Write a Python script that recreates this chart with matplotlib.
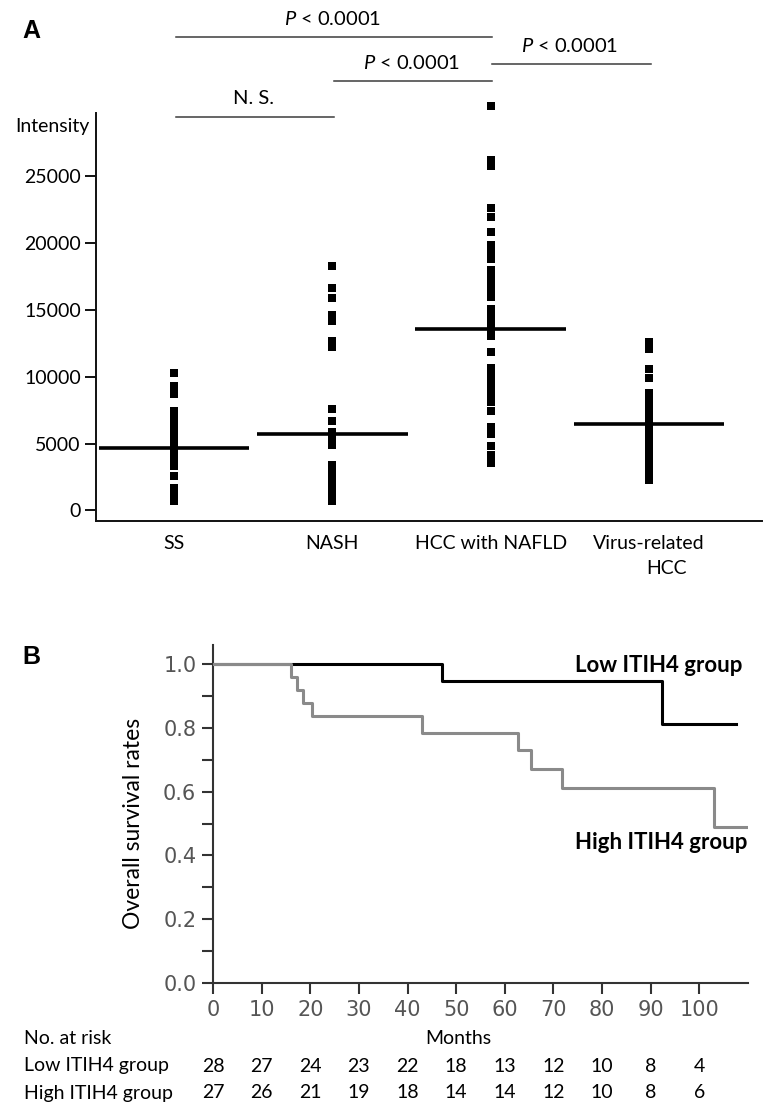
import matplotlib
matplotlib.use('Agg')
import matplotlib.pyplot as plt
from matplotlib import transforms

plt.rcParams['font.family'] = ['Lato', 'DejaVu Sans']
plt.rcParams['mathtext.fontset'] = 'custom'
plt.rcParams['mathtext.it'] = 'Lato:italic'
plt.rcParams['mathtext.rm'] = 'Lato'

# ---------------- Panel A data ----------------
categories = ['SS', 'NASH', 'HCC with NAFLD', 'Virus-related']
ss_vals = [10300, 9300, 8700, 7450, 7070, 6500, 6100, 5700, 5300, 4900, 4500,
           4100, 3700, 3300, 2600, 1700, 1200, 700]
nash_vals = [18290, 16670, 15920, 14600, 14150, 12650, 12250, 7560, 6720, 5900,
             5400, 4920, 3400, 2900, 2400, 1900, 1400, 900, 680]
hcc_nafld_vals = [30260, 26200, 25750, 22650, 21950, 20850, 19850, 19300, 18850,
                  18000, 17500, 17000, 16500, 16000, 15050, 14550, 14050, 13550,
                  13050, 11850, 10650, 10150, 9650, 9150, 8650, 8150, 7430, 6260,
                  5700, 4850, 4150, 3550]
virus_hcc_vals = [12620, 12050, 10620, 9900, 8760, 8260, 7760, 7260, 6760, 6260,
                  5760, 5260, 4760, 4260, 3760, 3260, 2760, 2300]
group_means = [4650, 5750, 13600, 6450]
y_ticks_A = [0, 5000, 10000, 15000, 20000, 25000]

sig_pairs = [(0, 1), (1, 2), (0, 2), (2, 3)]
sig_labels = ['N. S.', r'$\mathit{P}$ < 0.0001', r'$\mathit{P}$ < 0.0001', r'$\mathit{P}$ < 0.0001']
sig_heights = [29450, 32150, 35440, 33420]

# ---------------- Panel B data ----------------
low_t = [0, 47.0, 92.3, 107.6]
low_s = [1.0, 0.946, 0.812, 0.812]
high_t = [0, 16.1, 17.3, 18.5, 20.3, 42.9, 62.8, 65.3, 71.7, 103.0, 109.7]
high_s = [1.0, 0.96, 0.92, 0.879, 0.837, 0.783, 0.730, 0.670, 0.610, 0.490, 0.490]
risk_times = [0, 10, 20, 30, 40, 50, 60, 70, 80, 90, 100]
low_risk = [28, 27, 24, 23, 22, 18, 13, 12, 10, 8, 4]
high_risk = [27, 26, 21, 19, 18, 14, 14, 12, 10, 8, 6]

W, H = 765, 1108
fig = plt.figure(figsize=(W / 100, H / 100), dpi=100)


def fx(px):
    return px / W


def fy(py):
    return 1 - py / H


# ================= Panel A =================
axA = fig.add_axes([fx(96), fy(521), fx(762) - fx(96), fy(113) - fy(521)])
axA.set_xlim(-0.493, 3.714)
axA.set_ylim(-786, 29750)
groups = [ss_vals, nash_vals, hcc_nafld_vals, virus_hcc_vals]
for i, vals in enumerate(groups):
    axA.plot([i] * len(vals), vals, 's', ms=5.2, color='black', mew=0,
             clip_on=False, zorder=3)
xs = list(range(len(categories)))
axA.hlines(group_means, [x - 0.475 for x in xs], [x + 0.475 for x in xs],
           lw=2.6, color='black', zorder=4)

for s in ['top', 'right']:
    axA.spines[s].set_visible(False)
for s in ['left', 'bottom']:
    axA.spines[s].set_linewidth(1.4)
    axA.spines[s].set_color('#111111')
axA.set_yticks(y_ticks_A)
axA.set_yticklabels([str(v) for v in y_ticks_A])
axA.tick_params(axis='y', direction='out', length=8, width=1.4, labelsize=14,
                pad=3, color='#111111')
axA.set_xticks(xs)
axA.set_xticklabels(categories)
axA.tick_params(axis='x', length=0, labelsize=14, pad=10)
axA.text(3.11, fy(568), 'HCC', transform=transforms.blended_transform_factory(
    axA.transData, fig.transFigure), ha='center', va='center', fontsize=14)

fig.text(fx(52), fy(126), 'Intensity', ha='center', va='center', fontsize=14)

for (a, b), lab, h in zip(sig_pairs, sig_labels, sig_heights):
    axA.plot([a + 0.01, b + 0.01], [h, h], color='#3c3c3c', lw=1.1, clip_on=False)
    axA.text((a + b) / 2, h + 1350, lab, ha='center', va='center', fontsize=14.5,
             clip_on=False)

fig.text(fx(31), fy(31), 'A', ha='center', va='center', fontsize=18,
         fontweight='bold', family='Liberation Sans')

# ================= Panel B =================
axB = fig.add_axes([fx(213), fy(983), fx(748) - fx(213), fy(645) - fy(983)])
axB.set_xlim(0, 110)
axB.set_ylim(0, 1.06)
axB.step(low_t, low_s, where='post', color='black', lw=2.2, zorder=2)
axB.step(high_t, high_s, where='post', color='#8a8a8a', lw=2.2, zorder=3)

for s in ['top', 'right']:
    axB.spines[s].set_visible(False)
for s in ['left', 'bottom']:
    axB.spines[s].set_linewidth(1.5)
    axB.spines[s].set_color('#333333')
axB.set_yticks([0, 0.2, 0.4, 0.6, 0.8, 1.0])
axB.set_yticklabels(['0.0', '0.2', '0.4', '0.6', '0.8', '1.0'])
axB.set_yticks([0.1, 0.3, 0.5, 0.7, 0.9], minor=True)
axB.set_xticks(risk_times)
axB.set_xticklabels([str(t) for t in risk_times])
axB.tick_params(axis='both', which='both', direction='out', length=8, width=1.5,
                color='#333333', labelsize=15, labelcolor='#555555', pad=4)
for lab in axB.get_xticklabels() + axB.get_yticklabels():
    lab.set_family('DejaVu Sans')

axB.text(74.5, 0.995, 'Low ITIH4 group', ha='left', va='center', fontsize=16,
         fontweight='bold')
axB.text(74.5, 0.441, 'High ITIH4 group', ha='left', va='center', fontsize=16,
         fontweight='bold')

fig.text(fx(133), fy(823), 'Overall survival rates', rotation=90, ha='center',
         va='center', fontsize=16.5)
fig.text(fx(31), fy(657), 'B', ha='center', va='center', fontsize=18,
         fontweight='bold', family='Liberation Sans')

tB = transforms.blended_transform_factory(axB.transData, fig.transFigure)
fig.text(fx(24), fy(1039), 'No. at risk', ha='left', va='center', fontsize=14)
axB.text(50.5, fy(1039), 'Months', transform=tB, ha='center', va='center',
         fontsize=14)
fig.text(fx(24), fy(1066), 'Low ITIH4 group', ha='left', va='center', fontsize=14)
fig.text(fx(24), fy(1093), 'High ITIH4 group', ha='left', va='center', fontsize=14)
for t, lo, hi in zip(risk_times, low_risk, high_risk):
    axB.text(t, fy(1066), str(lo), transform=tB, ha='center', va='center',
             fontsize=14)
    axB.text(t, fy(1093), str(hi), transform=tB, ha='center', va='center',
             fontsize=14)

fig.savefig('out.png', dpi=100)
